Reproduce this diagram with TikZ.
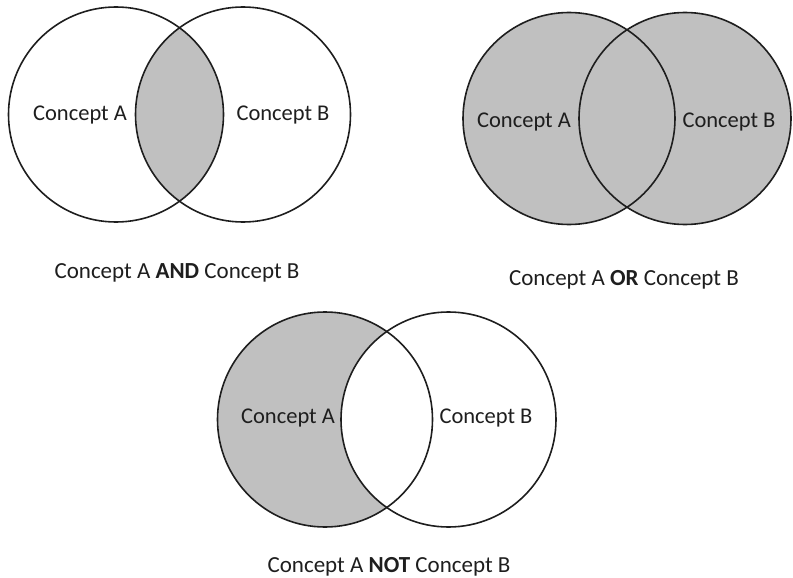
\documentclass[tikz,border=0pt]{standalone}
\usepackage{fontspec}
\setmainfont{Carlito}
\definecolor{setgray}{RGB}{192,192,192}
\definecolor{inkc}{RGB}{30,30,30}
\begin{document}
\begin{tikzpicture}[x=1pt,y=-1pt,
  ring/.style={draw=inkc,line width=1.6pt},
  lbl/.style={anchor=base,inner sep=0pt,text=inkc,font=\fontsize{22.5}{26}\selectfont},
  caption/.style={anchor=base,inner sep=0pt,text=inkc,font=\fontsize{23}{27}\selectfont}]
\useasboundingbox (0,0) rectangle (793,578);
\def\rad{107.5}

% ---- AND ----
\coordinate (andA) at (116,114.5);
\coordinate (andB) at (243,114.5);
\begin{scope}
  \clip (andA) circle (\rad);
  \fill[setgray] (andB) circle (\rad);
\end{scope}
\draw[ring] (andA) circle (\rad);
\draw[ring] (andB) circle (\rad);
\node[lbl] (andlA) at (80,121) {Concept A};
\node[lbl] (andlB) at (283,121) {Concept B};
\node[caption] (andcap) at (177,278) {Concept A \textbf{AND} Concept B};

% ---- OR ----
\coordinate (orA) at (569,118.5);
\coordinate (orB) at (685,118.5);
\fill[setgray] (orA) circle (\rad-1.5);
\fill[setgray] (orB) circle (\rad-1.5);
\draw[ring] (orA) circle (\rad-1.5);
\draw[ring] (orB) circle (\rad-1.5);
\node[lbl] (orlA) at (524,128) {Concept A};
\node[lbl] (orlB) at (729,128) {Concept B};
\node[caption] (orcap) at (624,285) {Concept A \textbf{OR} Concept B};

% ---- NOT ----
\coordinate (notA) at (325,419.5);
\coordinate (notB) at (448.5,419.5);
\fill[setgray] (notA) circle (\rad);
\begin{scope}
  \clip (notA) circle (\rad);
  \fill[white] (notB) circle (\rad);
\end{scope}
\draw[ring] (notA) circle (\rad);
\draw[ring] (notB) circle (\rad);
\node[lbl] (notlA) at (288,423) {Concept A};
\node[lbl] (notlB) at (486,423) {Concept B};
\node[caption] (notcap) at (389,572) {Concept A \textbf{NOT} Concept B};
\end{tikzpicture}
\end{document}
